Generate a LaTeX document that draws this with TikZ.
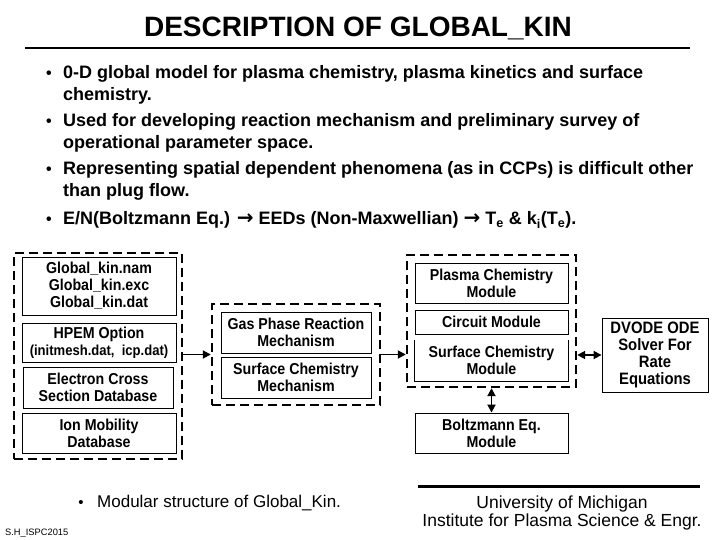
\documentclass[tikz,border=0pt]{standalone}
\usepackage{fontspec}
\setmainfont{Liberation Sans}
\newfontfamily\boxfont[FakeStretch=0.9]{Liberation Sans}
\newfontfamily\djv{DejaVu Sans}
\usetikzlibrary{arrows.meta,calc}
\newcommand{\toplines}[2]{\begin{tabular}[t]{@{}#1@{}}#2\end{tabular}}
\newcommand{\rarr}{{\djv\bfseries\fontsize{20}{22}\selectfont →}}
\begin{document}
\begin{tikzpicture}[x=1pt,y=-1pt,
  inbox/.style={draw,line width=0.9pt,align=center,inner sep=0pt,
    font=\boxfont\bfseries\fontsize{15.8}{17}\selectfont},
  dbox/.style={draw,line width=2.4pt,dash pattern=on 9pt off 5pt,inner sep=0pt},
  arr/.style={line width=1.8pt,-{Triangle[length=8pt,width=8pt]}},
  darr/.style={line width=1.8pt,{Triangle[length=8pt,width=8pt]}-{Triangle[length=8pt,width=8pt]}},
  bul/.style={anchor=base,inner sep=0pt,font=\bfseries\fontsize{16}{22}\selectfont},
  item/.style={anchor=base west,inner sep=0pt,font=\bfseries\fontsize{18}{22}\selectfont}]
\useasboundingbox (0,0) rectangle (720,540);
% title
\node[anchor=base,inner sep=0pt,font=\bfseries\fontsize{28}{30}\selectfont] (title) at (358,37) {DESCRIPTION OF GLOBAL\_KIN};
\draw[line width=2.6pt] (25,48) coordinate (r1a) -- (690,48) coordinate (r1b);
% bullets
\node[bul] (b1) at (49,79) {•};
\node[item] (t1) at (63,79) {\toplines{l}{0-D global model for plasma chemistry, plasma kinetics and surface\\chemistry.}};
\node[bul] (b2) at (49,127) {•};
\node[item] (t2) at (63,127) {\toplines{l}{Used for developing reaction mechanism and preliminary survey of\\operational parameter space.}};
\node[bul] (b3) at (49,175) {•};
\node[item] (t3) at (63,175) {\toplines{l}{Representing spatial dependent phenomena (as in CCPs) is difficult other\\than plug flow.}};
\node[bul] (b4) at (49,225) {•};
\node[item] (t4) at (63,225) {E/N(Boltzmann Eq.) \rarr{} EEDs (Non-Maxwellian) \rarr{} T\textsubscript{e} \& k\textsubscript{i}(T\textsubscript{e}).};
% left group
\node[dbox,minimum width=168pt,minimum height=206pt] (Lout) at (98,356) {};
\node[inbox,minimum width=154pt,minimum height=58pt] (L1) at (99,286) {Global\_kin.nam\\Global\_kin.exc\\Global\_kin.dat};
\node[inbox,minimum width=154pt,minimum height=39pt] (L2) at (99,342.5) {HPEM Option\\{\fontsize{14.5}{17}\selectfont(initmesh.dat,\ \ icp.dat)}};
\node[inbox,minimum width=150pt,minimum height=41pt] (L3) at (98,387.5) {Electron Cross\\Section Database};
\node[inbox,minimum width=154pt,minimum height=40pt] (L4) at (99,433) {Ion Mobility\\Database};
% middle group
\node[dbox,minimum width=168pt,minimum height=101pt] (Mout) at (296,354.5) {};
\node[inbox,minimum width=150pt,minimum height=41pt] (M1) at (296,332.5) {Gas Phase Reaction\\Mechanism};
\node[inbox,minimum width=150pt,minimum height=41pt] (M2) at (296,377.5) {Surface Chemistry\\Mechanism};
% right group
\node[dbox,minimum width=169pt,minimum height=132pt] (Rout) at (491.5,321) {};
\node[inbox,minimum width=153pt,minimum height=40pt] (R1) at (491.5,283) {Plasma Chemistry\\Module};
\node[inbox,minimum width=153pt,minimum height=24pt] (R2) at (491.5,322) {Circuit Module};
\node[inbox,draw=none,minimum width=153pt,minimum height=41pt] (R3) at (491.5,360.5) {Surface Chemistry\\Module};
\draw[line width=0.9pt] (R3.north west) -- (R3.south west) -- (R3.south east) -- (R3.north east);
\node[inbox,minimum width=106pt,minimum height=74pt,font=\boxfont\bfseries\fontsize{16.5}{17}\selectfont] (DV) at (655,355) {DVODE ODE\\Solver For\\Rate\\Equations};
\node[inbox,minimum width=153pt,minimum height=40pt] (BZ) at (491.5,433) {Boltzmann Eq.\\Module};
% connectors
\draw[arr] (Lout.east |- Mout.west) -- (Mout.west);
\draw[arr] (Mout.east) -- (Rout.west |- Mout.east);
\draw[darr] (Rout.east |- DV.west) -- (DV.west);
\draw[darr] (Rout.south) -- (BZ.north);
% bottom
\node[anchor=base,inner sep=0pt,font=\fontsize{15}{20}\selectfont] (b5) at (81,507) {•};
\node[anchor=base west,inner sep=0pt,font=\fontsize{17}{20}\selectfont] (t5) at (97,507) {Modular structure of Global\_Kin.};
\draw[line width=3pt] (418,486) coordinate (r2a) -- (700,486) coordinate (r2b);
\node[anchor=base,inner sep=0pt,font=\fontsize{17.5}{18}\selectfont] (um) at (562,508) {\toplines{c}{University of Michigan\\Institute for Plasma Science \& Engr.}};
\node[anchor=base west,inner sep=0pt,font=\fontsize{9.3}{10}\selectfont] (sh) at (5,535) {S.H\_ISPC2015};
\end{tikzpicture}
\end{document}
